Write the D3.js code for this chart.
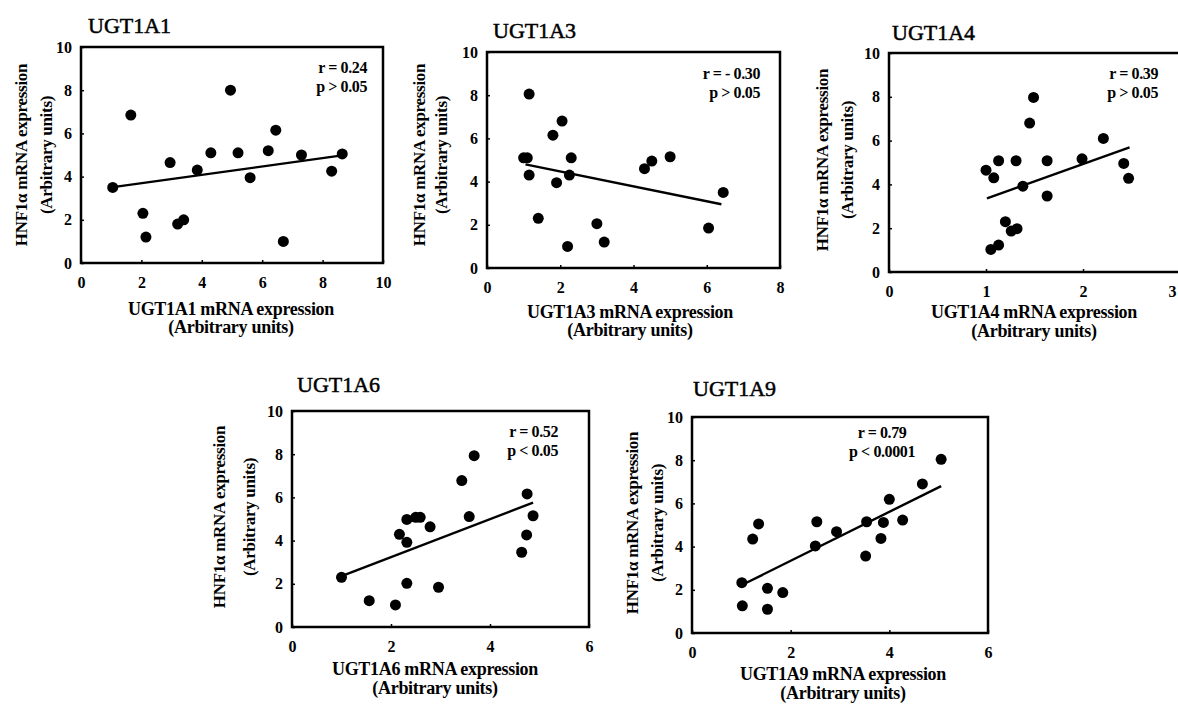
<!DOCTYPE html>
<html>
<head>
<meta charset="utf-8">
<script src="https://cdn.jsdelivr.net/npm/d3@7"></script>
<style>
body { margin: 0; background: #fff; }
svg text { font-family: "Liberation Serif", "Times New Roman", serif; fill: #000; }
</style>
</head>
<body>
<svg id="chart" width="1178" height="709"></svg>
<script>
/* Data */

var GENES    = ["UGT1A1", "UGT1A3", "UGT1A4", "UGT1A6", "UGT1A9"];
var X_MAX    = [10, 8, 3, 6, 6];
var X_TICKS  = [[0, 2, 4, 6, 8, 10], [0, 2, 4, 6, 8], [0, 1, 2, 3], [0, 2, 4, 6], [0, 2, 4, 6]];
var Y_TICKS  = [0, 2, 4, 6, 8, 10];
var R_LABELS = ["r = 0.24", "r = - 0.30", "r = 0.39", "r = 0.52", "r = 0.79"];
var P_LABELS = ["p > 0.05", "p > 0.05", "p > 0.05", "p < 0.05", "p < 0.0001"];

var PTS_1A1 = [[1.05, 3.5], [1.65, 6.85], [2.05, 2.3], [2.15, 1.2], [2.95, 4.65], [3.2, 1.8],
               [3.4, 2.0], [3.85, 4.3], [4.3, 5.1], [4.95, 8.0], [5.2, 5.1], [5.6, 3.95],
               [6.2, 5.2], [6.45, 6.15], [6.7, 1.0], [7.3, 5.0], [8.3, 4.25], [8.65, 5.05]];
var PTS_1A3 = [[1.0, 5.1], [1.1, 5.1], [1.15, 8.05], [1.15, 4.3], [1.4, 2.3], [1.8, 6.15],
               [1.9, 3.95], [2.05, 6.8], [2.2, 1.0], [2.25, 4.3], [2.3, 5.1], [3.0, 2.05],
               [3.2, 1.2], [4.3, 4.6], [4.5, 4.95], [5.0, 5.15], [6.05, 1.85], [6.45, 3.5]];
var PTS_1A4 = [[1.0, 4.65], [1.08, 4.3], [1.05, 1.03], [1.13, 1.23], [1.13, 5.08], [1.2, 2.3],
               [1.26, 1.87], [1.32, 1.98], [1.31, 5.08], [1.38, 3.92], [1.45, 6.8], [1.49, 7.97],
               [1.63, 5.08], [1.63, 3.47], [1.99, 5.17], [2.21, 6.1], [2.42, 4.96], [2.47, 4.28]];
var PTS_1A6 = [[1.0, 2.3], [1.56, 1.22], [2.09, 1.02], [2.17, 4.29], [2.32, 4.98], [2.32, 3.92],
               [2.32, 2.02], [2.5, 5.08], [2.59, 5.08], [2.79, 4.64], [2.96, 1.84], [3.43, 6.78],
               [3.58, 5.11], [3.68, 7.93], [4.64, 3.46], [4.74, 4.26], [4.75, 6.16], [4.87, 5.15]];
var PTS_1A9 = [[1.01, 2.33], [1.02, 1.26], [1.23, 4.35], [1.35, 5.05], [1.53, 2.07], [1.53, 1.1],
               [1.84, 1.87], [2.5, 4.03], [2.53, 5.15], [2.93, 4.69], [3.52, 3.56], [3.54, 5.15],
               [3.83, 4.38], [3.88, 5.12], [4.0, 6.19], [4.27, 5.23], [4.67, 6.9], [5.05, 8.04]];

// regression line end points [x1, y1, x2, y2]
var FITS = [[1.0, 3.5, 8.65, 4.98],
            [1.05, 4.8, 6.4, 2.95],
            [1.01, 3.36, 2.48, 5.69],
            [1.0, 2.36, 4.87, 5.76],
            [1.01, 2.22, 5.05, 6.8]];

var POINTS = [PTS_1A1, PTS_1A3, PTS_1A4, PTS_1A6, PTS_1A9];

/* Labels */

var Y_LABEL  = "HNF1\u03b1 mRNA expression",
    UNITS    = "(Arbitrary units)";

/* Layout (pixels) */

var LAYOUT = [
	{ left:  81, right:  383, top:  47, bottom: 263, title: [ 88,  33], ylab: [ 21,  46, 155], xlab: [231, 315, 333], stat: [367,  73, "end"] },
	{ left: 487, right:  780, top:  52, bottom: 268, title: [493,  38], ylab: [419, 441, 155], xlab: [630, 318, 336], stat: [760,  79, "end"] },
	{ left: 889, right: 1180, top:  53, bottom: 272, title: [892,  40], ylab: [822, 847, 160], xlab: [1034, 318, 337], stat: [1158, 79, "end"] },
	{ left: 292, right:  589, top: 411, bottom: 627, title: [297, 392], ylab: [219, 249, 517], xlab: [435, 675, 694], stat: [558, 437, "end"] },
	{ left: 692, right:  988, top: 417, bottom: 633, title: [693, 396], ylab: [632, 657, 523], xlab: [843, 680, 699], stat: [882, 438, "middle"] }
];

var DOT_R       = 5.5,
    TICK_LEN    = 3,
    FRAME_WIDTH = 2.5,
    STAT_LINE   = 19,
    EDGE        = 1176;

var svg = d3.select("#chart");

function drawPanel(i) {
	var L = LAYOUT[i];
	var g = svg.append("g").attr("class", "panel");

	var x = d3.scaleLinear().domain([0, X_MAX[i]]).range([L.left, L.right]);
	var y = d3.scaleLinear().domain([0, 10]).range([L.bottom, L.top]);

	// axes: tick labels only, small inward ticks
	var xAxis = d3.axisBottom(x).tickValues(X_TICKS[i]).tickFormat(d3.format("d"))
		.tickSize(-TICK_LEN).tickPadding(14);
	var yAxis = d3.axisLeft(y).tickValues(Y_TICKS).tickFormat(d3.format("d"))
		.tickSize(-TICK_LEN).tickPadding(9);

	var gx = g.append("g").attr("transform", "translate(0," + L.bottom + ")").call(xAxis);
	var gy = g.append("g").attr("transform", "translate(" + L.left + ",0)").call(yAxis);

	[gx, gy].forEach(function(a) {
		a.select(".domain").remove();
		a.selectAll(".tick line").attr("stroke", "#000").attr("stroke-width", 1.5);
		a.selectAll(".tick text")
			.style("font-family", "'Liberation Serif', serif")
			.style("font-weight", "bold")
			.style("font-size", "16px")
			.attr("fill", "#000");
	});

	// keep a tick label that would fall off the right edge inside the page
	gx.selectAll(".tick text").each(function(d) {
		if (x(d) + 5 > EDGE) d3.select(this).attr("text-anchor", "end").attr("x", EDGE - x(d));
	});

	// frame
	g.append("rect")
		.attr("x", L.left)
		.attr("y", L.top)
		.attr("width", L.right - L.left)
		.attr("height", L.bottom - L.top)
		.attr("fill", "none")
		.attr("stroke", "#000")
		.attr("stroke-width", FRAME_WIDTH);

	// fit line
	var f = FITS[i];
	g.append("line")
		.attr("x1", x(f[0])).attr("y1", y(f[1]))
		.attr("x2", x(f[2])).attr("y2", y(f[3]))
		.attr("stroke", "#000")
		.attr("stroke-width", 2.4);

	// points
	g.append("g").selectAll("circle")
		.data(POINTS[i])
		.enter().append("circle")
		.attr("cx", function(d) { return x(d[0]); })
		.attr("cy", function(d) { return y(d[1]); })
		.attr("r", DOT_R)
		.attr("fill", "#000");

	// title
	g.append("text")
		.attr("x", L.title[0])
		.attr("y", L.title[1])
		.style("font-size", "22px")
		.attr("stroke", "#000")
		.attr("stroke-width", 0.5)
		.text(GENES[i]);

	// stats
	g.append("text")
		.attr("x", L.stat[0]).attr("y", L.stat[1])
		.attr("text-anchor", L.stat[2])
		.style("font-size", "16px").style("font-weight", "bold")
		.style("letter-spacing", "-0.4px")
		.text(R_LABELS[i]);
	g.append("text")
		.attr("x", L.stat[0]).attr("y", L.stat[1] + STAT_LINE)
		.attr("text-anchor", L.stat[2])
		.style("font-size", "16px").style("font-weight", "bold")
		.style("letter-spacing", "-0.4px")
		.text(P_LABELS[i]);

	// x label
	g.append("text")
		.attr("x", L.xlab[0]).attr("y", L.xlab[1])
		.attr("text-anchor", "middle")
		.style("font-size", "18px").style("font-weight", "bold")
		.style("letter-spacing", "-0.3px")
		.text(GENES[i] + " mRNA expression");
	g.append("text")
		.attr("x", L.xlab[0]).attr("y", L.xlab[2])
		.attr("text-anchor", "middle")
		.style("font-size", "18px").style("font-weight", "bold")
		.style("letter-spacing", "-0.3px")
		.text(UNITS);

	// y label (rotated)
	[[L.ylab[0], Y_LABEL], [L.ylab[1], UNITS]].forEach(function(d) {
		g.append("text")
			.attr("transform", "translate(" + d[0] + "," + L.ylab[2] + ") rotate(-90)")
			.attr("text-anchor", "middle")
			.attr("dominant-baseline", "central")
			.style("font-size", "17px").style("font-weight", "bold")
			.style("letter-spacing", "-0.3px")
			.text(d[1]);
	});
}

GENES.forEach(function(d, i) { drawPanel(i); });
</script>
</body>
</html>
